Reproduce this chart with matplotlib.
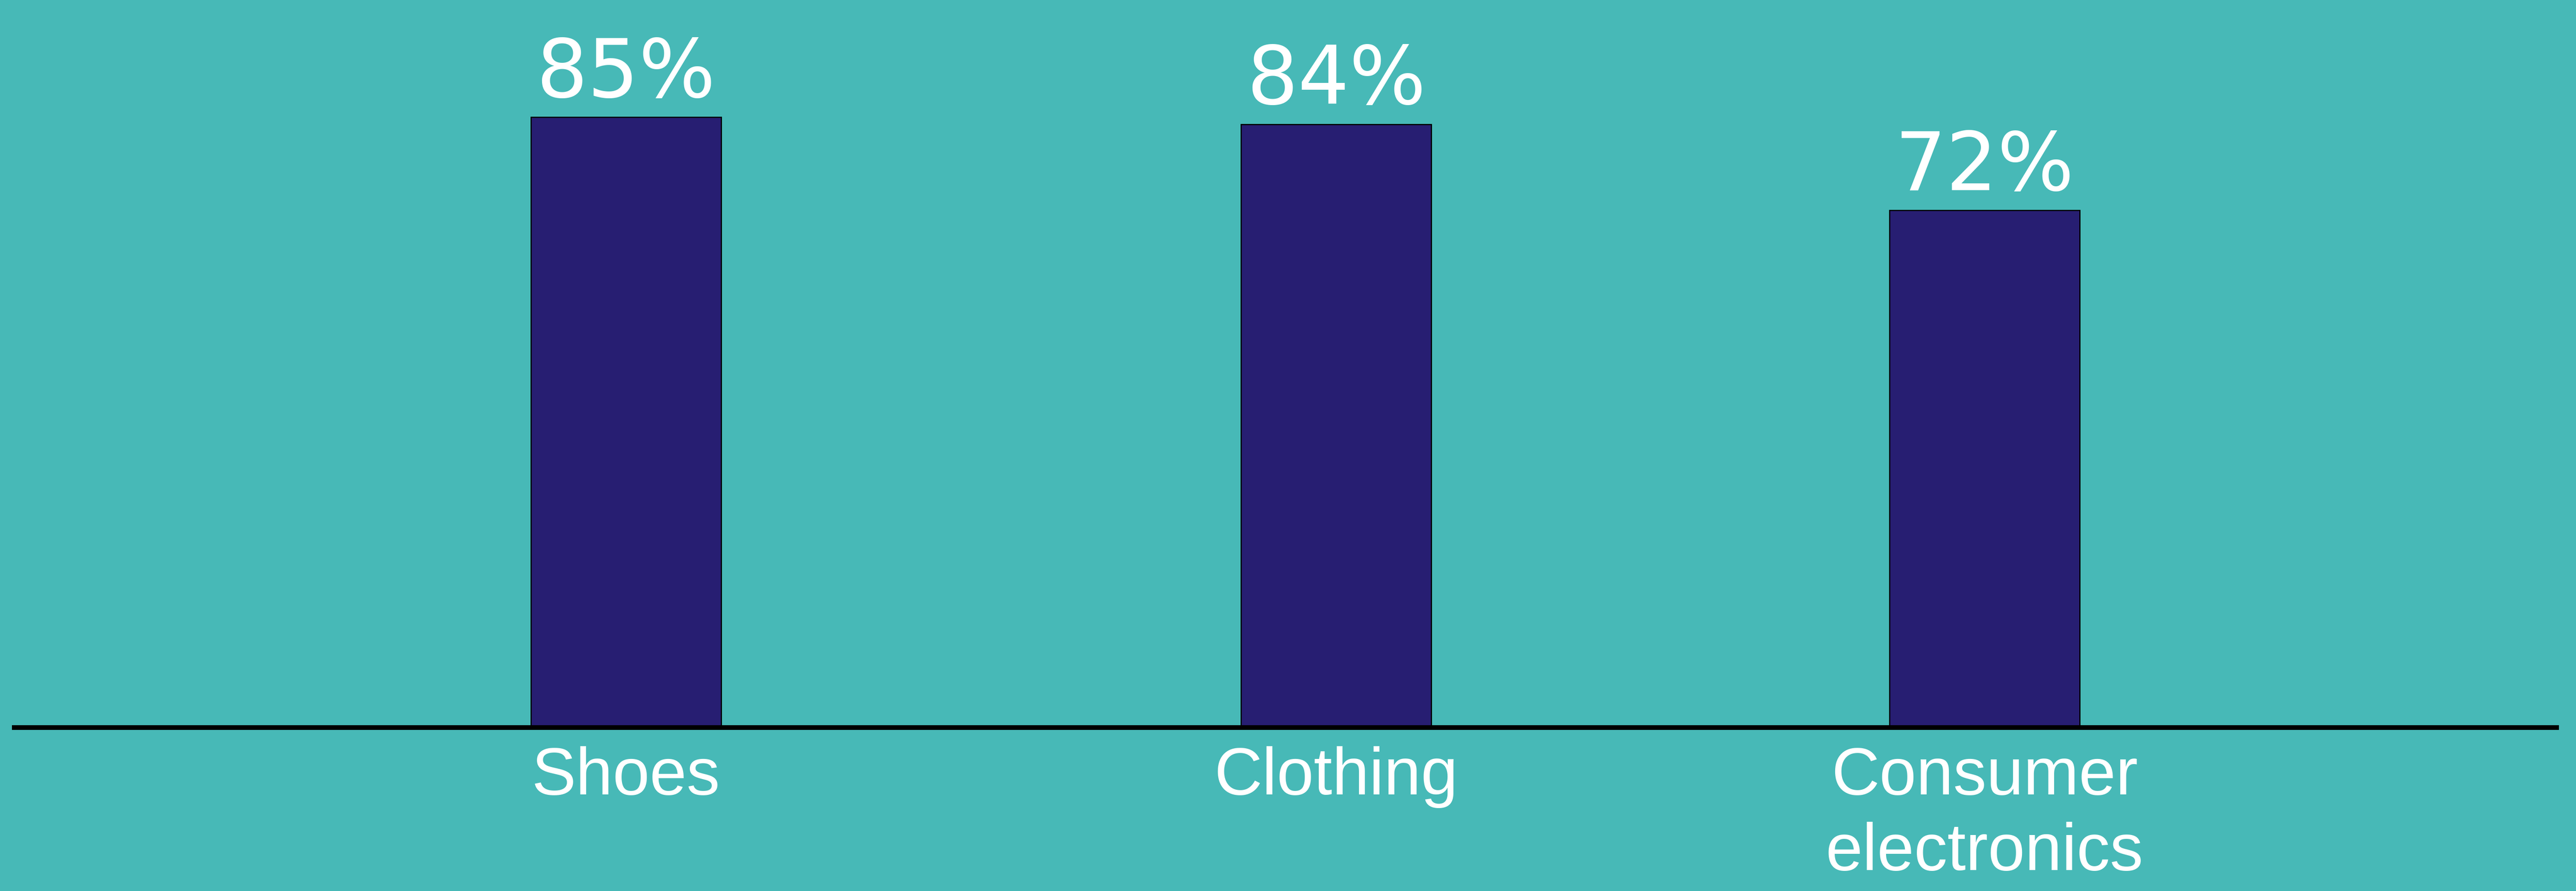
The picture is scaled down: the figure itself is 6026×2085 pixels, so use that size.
import matplotlib
matplotlib.use('Agg')
import matplotlib.pyplot as plt

# data
categories = ['Shoes', 'Clothing', 'Consumer\nelectronics']
values = [85, 84, 72]

# layout (bar centres are not evenly spaced in the original)
x_pos = [0, 1, 1.913]
bar_width = 0.268

bg_color = '#47b9b7'
bar_color = '#271e72'

fig = plt.figure(figsize=(60.26, 20.85), dpi=100, facecolor=bg_color)
ax = fig.add_axes([0.0055, 0.1839, 0.98687, 0.8161])
ax.set_facecolor(bg_color)

ax.bar(x_pos, values, width=bar_width, color=bar_color, edgecolor='black', linewidth=2, zorder=2)

for x, v in zip(x_pos, values):
    ax.annotate(f'{v}%', xy=(x, v), xytext=(0, 34), textcoords='offset points',
                ha='center', va='baseline', color='white', fontsize=136,
                family=['DejaVu Sans'])

ax.set_xlim(-0.8613, 2.718)
ax.set_ylim(0, 101.3)

ax.set_xticks(x_pos)
ax.set_xticklabels(categories, color='white', fontsize=112, family=['Liberation Sans'],
                   linespacing=1.28)
ax.tick_params(axis='x', length=0, pad=32)
ax.set_yticks([])

for side in ['top', 'left', 'right']:
    ax.spines[side].set_visible(False)
ax.spines['bottom'].set_linewidth(8)
ax.spines['bottom'].set_color('black')
ax.spines['bottom'].set_zorder(3)

fig.savefig('out.png', dpi=100, facecolor=bg_color)
